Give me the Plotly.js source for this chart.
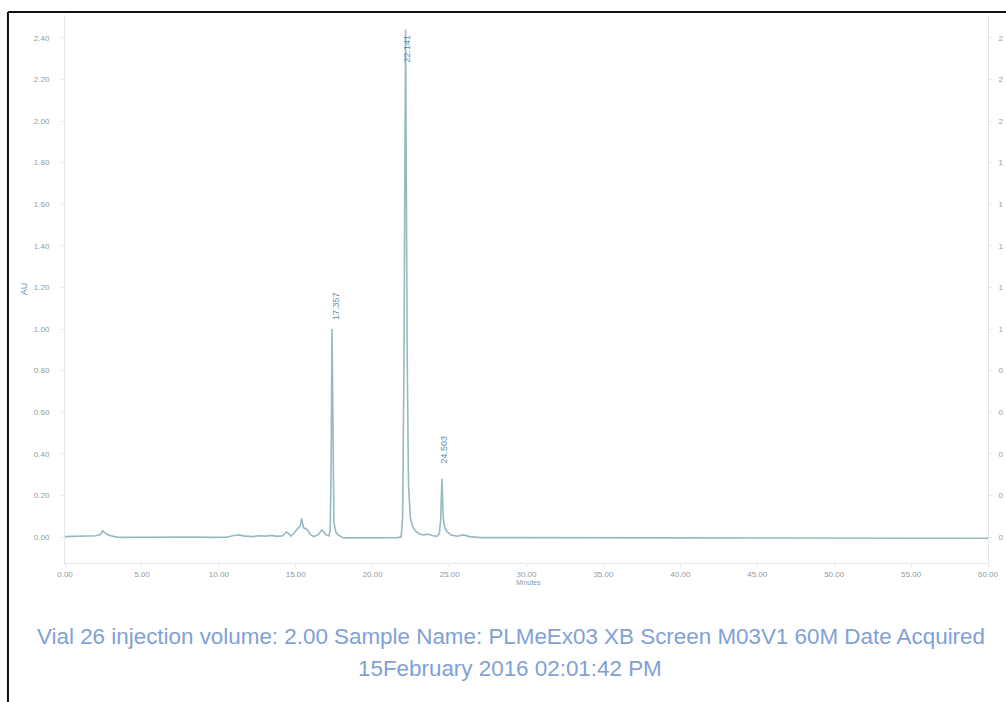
<!DOCTYPE html>
<html>
<head>
<meta charset="utf-8">
<script src="https://cdn.plot.ly/plotly-3.0.1.min.js"></script>
<style>html,body{margin:0;padding:0;background:#fff;}#chart{width:1006px;height:702px;}</style>
</head>
<body>
<div id="chart"></div>
<script>
// Retention time (minutes) and absorbance (AU)
const timeMin = [0, 1.0, 2.0, 2.3, 2.45, 2.6, 2.8, 3.2, 3.6, 4.5, 5.5, 7.0, 8.5, 9.5, 10.5, 10.9, 11.3, 11.7, 12.2, 12.6, 13.0, 13.4, 13.8, 14.15, 14.4, 14.7, 15.0, 15.2, 15.3, 15.38, 15.5, 15.65, 15.8, 15.95, 16.15, 16.45, 16.7, 16.95, 17.15, 17.24, 17.3, 17.357, 17.41, 17.48, 17.6, 17.8, 18.1, 19.0, 20.0, 21.0, 21.6, 21.85, 21.95, 22.03, 22.141, 22.24, 22.33, 22.45, 22.6, 22.8, 23.0, 23.3, 23.6, 23.9, 24.2, 24.33, 24.42, 24.503, 24.58, 24.68, 24.85, 25.1, 25.5, 25.9, 26.3, 27.0, 30.0, 35.0, 40.0, 45.0, 50.0, 55.0, 60.0];
const absorbance = [0.002, 0.004, 0.006, 0.012, 0.030, 0.020, 0.010, 0.002, -0.002, -0.001, 0.000, -0.001, 0.000, -0.002, -0.001, 0.006, 0.010, 0.004, 0.002, 0.006, 0.004, 0.008, 0.003, 0.006, 0.025, 0.004, 0.030, 0.045, 0.055, 0.090, 0.045, 0.040, 0.030, 0.012, 0.002, 0.010, 0.035, 0.012, 0.005, 0.030, 0.35, 1.00, 0.35, 0.07, 0.025, 0.008, -0.004, -0.004, -0.004, -0.004, -0.003, 0.000, 0.10, 0.80, 2.44, 0.90, 0.25, 0.09, 0.050, 0.028, 0.015, 0.010, 0.014, 0.006, 0.004, 0.015, 0.08, 0.28, 0.10, 0.045, 0.025, 0.010, 0.004, 0.010, 0.002, -0.003, -0.004, -0.004, -0.004, -0.005, -0.005, -0.006, -0.006];

// Integrated peaks
const peakTimes = [17.357, 22.141, 24.503];
const peakHeights = [1.00, 2.44, 0.28];
const peakLabels = ['17.357', '22.141', '24.503'];

// Axis ticks
const xTickVals = [0, 5, 10, 15, 20, 25, 30, 35, 40, 45, 50, 55, 60];
const xTickText = ['0.00', '5.00', '10.00', '15.00', '20.00', '25.00', '30.00', '35.00', '40.00', '45.00', '50.00', '55.00', '60.00'];
const yTickVals = [0, 0.2, 0.4, 0.6, 0.8, 1.0, 1.2, 1.4, 1.6, 1.8, 2.0, 2.2, 2.4];
const yTickText = ['0.00', '0.20', '0.40', '0.60', '0.80', '1.00', '1.20', '1.40', '1.60', '1.80', '2.00', '2.20', '2.40'];
// right-hand labels: only their first character is visible at the page edge
const yTickTextRight = ['0', '0', '0', '0', '0', '1', '1', '1', '1', '1', '2', '2', '2'];

const captionLine1 = 'Vial 26 injection volume: 2.00 Sample Name: PLMeEx03 XB Screen M03V1 60M Date Acquired';
const captionLine2 = '15February 2016 02:01:42 PM';

const traceColor = '#96b9c2';
const tickColor = '#8f9ca2';
const axisColor = '#dfe8eb';
const captionColor = '#7fa1d6';
const labelColor = '#5a90a8';

const yRange = [-0.125, 2.51];

const traces = [
  {
    x: timeMin, y: absorbance, type: 'scatter', mode: 'lines',
    line: {color: traceColor, width: 1.6}, hoverinfo: 'x+y', showlegend: false
  },
  {
    x: [0, 60], y: [0, 0], yaxis: 'y2', type: 'scatter', mode: 'lines',
    line: {width: 0}, hoverinfo: 'skip', showlegend: false
  }
];

const annotations = peakTimes.map((t, i) => ({
  x: t + [0.25, 0.1, 0.12][i], y: peakHeights[i] + [0.11, -0.09, 0.14][i],
  xref: 'x', yref: 'y', text: peakLabels[i], showarrow: false, textangle: -90,
  xanchor: 'center', yanchor: 'middle',
  font: {family: 'Liberation Sans, Arial, sans-serif', size: 9, color: labelColor}
}));

annotations.push({
  x: 0.502, y: -0.036, xref: 'paper', yref: 'paper', text: 'Minutes', showarrow: false,
  xanchor: 'center', yanchor: 'middle',
  font: {family: 'Liberation Sans, Arial, sans-serif', size: 7, color: '#7f9aa8'}
});
const captionFont = {family: 'Liberation Sans, Arial, sans-serif', size: 22.4, color: captionColor};
annotations.push({
  x: 0.4832, y: -0.134, xref: 'paper', yref: 'paper',
  text: captionLine1, showarrow: false, xanchor: 'center', yanchor: 'middle', font: captionFont
});
annotations.push({
  x: 0.4821, y: -0.193, xref: 'paper', yref: 'paper',
  text: captionLine2, showarrow: false, xanchor: 'center', yanchor: 'middle', font: captionFont
});

const layout = {
  width: 1006, height: 702,
  margin: {l: 65, r: 18, t: 15, b: 139, pad: 0},
  paper_bgcolor: '#ffffff', plot_bgcolor: '#ffffff',
  font: {family: 'Liberation Sans, Arial, sans-serif', size: 8, color: tickColor},
  showlegend: false,
  xaxis: {
    range: [0, 60], tickvals: xTickVals, ticktext: xTickText,
    showgrid: false, zeroline: false, showline: true, linecolor: axisColor, linewidth: 1,
    ticks: 'outside', ticklen: 3, tickcolor: axisColor,
    tickfont: {size: 8, color: tickColor}
  },
  yaxis: {
    range: yRange, tickvals: yTickVals, ticktext: yTickText,
    showgrid: false, zeroline: false, showline: true, linecolor: axisColor, linewidth: 1,
    ticks: 'outside', ticklen: 3, tickcolor: axisColor, ticklabelstandoff: 10,
    tickfont: {size: 8, color: tickColor},
    title: {text: 'AU', standoff: 4, font: {size: 9, color: '#6f93ad'}}
  },
  yaxis2: {
    range: yRange, overlaying: 'y', side: 'right', tickvals: yTickVals, ticktext: yTickTextRight,
    showgrid: false, zeroline: false, showline: true, linecolor: axisColor, linewidth: 1,
    ticks: 'outside', ticklen: 3, tickcolor: axisColor, ticklabelstandoff: 5,
    tickfont: {size: 8, color: tickColor}
  },
  annotations: annotations,
  shapes: [
    {type: 'line', xref: 'paper', yref: 'paper', x0: -0.0618, x1: 1.03, y0: 1.0055, y1: 1.0055, line: {color: '#111', width: 2}},
    {type: 'line', xref: 'paper', yref: 'paper', x0: -0.0618, x1: -0.0618, y0: 1.0055, y1: -0.27, line: {color: '#111', width: 2}}
  ]
};

Plotly.newPlot('chart', traces, layout, {displayModeBar: false, staticPlot: true});
</script>
</body>
</html>
